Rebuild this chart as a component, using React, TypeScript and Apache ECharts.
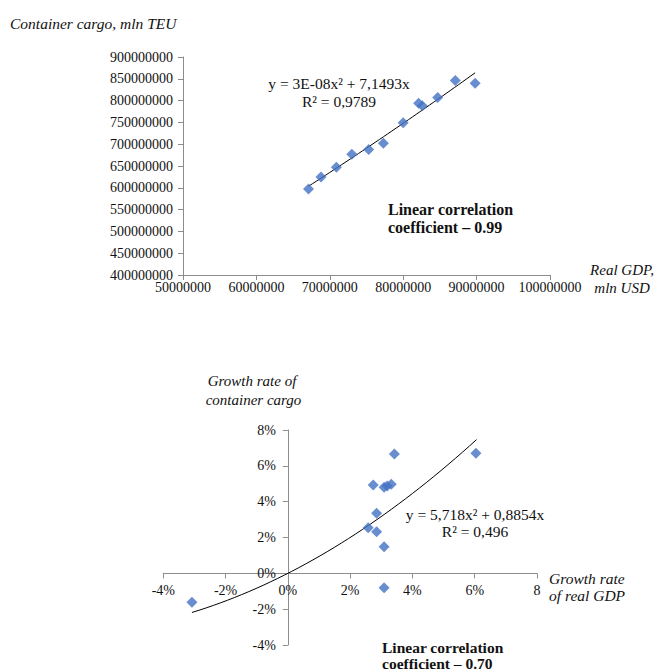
import React, { useEffect, useRef } from "react";
import * as echarts from "echarts";

// Top chart: real GDP (mln USD) vs container cargo (mln TEU)
const gdpValues = [67.1e6, 68.8e6, 70.9e6, 73.0e6, 75.3e6, 77.3e6, 80.0e6, 82.1e6, 82.6e6, 84.7e6, 87.1e6, 89.8e6];
const cargoValues = [597e6, 625e6, 647e6, 677e6, 688e6, 702e6, 749e6, 794e6, 788e6, 807e6, 846e6, 840e6];
const topTrendCoef = [2.75e-8, 7.1493]; // a, b for y = a x^2 + b x
const topTrendRange = [67.1e6, 89.8e6];
const topXTicks = [50000000, 100000000, 10000000]; // min, max, interval
const topYTicks = [400000000, 900000000, 50000000];

// Bottom chart: growth rate of real GDP (%) vs growth rate of container cargo (%)
const gdpGrowth = [-3.08, 2.58, 2.85, 2.74, 2.85, 3.09, 3.09, 3.19, 3.32, 3.42, 3.09, 6.04];
const cargoGrowth = [-1.62, 2.55, 2.32, 4.93, 3.35, 1.49, 4.8, 4.88, 4.97, 6.66, -0.8, 6.7];
const bottomTrendCoef = [5.718, 0.8854]; // y = a x^2 + b x (x as fraction)
const bottomTrendRange = [-3.08, 6.06];
const bottomTicks = [-4, 8, 2];

const FONT = "'Liberation Serif', 'Times New Roman', serif";
const AXIS_COLOR = "#8c8c8c";
const MARKER = "#4472C4";

function trendTop(): number[][] {
  const pts: number[][] = [];
  const n = 40;
  for (let i = 0; i <= n; i++) {
    const x = topTrendRange[0] + ((topTrendRange[1] - topTrendRange[0]) * i) / n;
    pts.push([x, topTrendCoef[0] * x * x + topTrendCoef[1] * x]);
  }
  return pts;
}

function trendBottom(): number[][] {
  const pts: number[][] = [];
  const n = 40;
  for (let i = 0; i <= n; i++) {
    const xp = bottomTrendRange[0] + ((bottomTrendRange[1] - bottomTrendRange[0]) * i) / n;
    const x = xp / 100;
    pts.push([xp, (bottomTrendCoef[0] * x * x + bottomTrendCoef[1] * x) * 100]);
  }
  return pts;
}

// bottom grid geometry
const G2 = { left: 163.3, top: 430, width: 373.7, height: 215 };
const zeroOffsetY = -(G2.height * (0 - bottomTicks[0])) / (bottomTicks[1] - bottomTicks[0]);
const zeroOffsetX = -(G2.width * (0 - bottomTicks[0])) / (bottomTicks[1] - bottomTicks[0]);

export default function App() {
  const ref = useRef<HTMLDivElement>(null);
  useEffect(() => {
    document.body.style.margin = "0";
    if (!ref.current) return;
    const chart = echarts.init(ref.current, undefined, { renderer: "svg" });
    const axisLine = { show: true, onZero: false, lineStyle: { color: AXIS_COLOR, width: 1 } };
    const axisCommon = {
      axisLine,
      axisTick: { show: true, length: 5, lineStyle: { color: AXIS_COLOR } },
      splitLine: { show: false },
    };
    const labelStyle = { fontFamily: FONT, fontSize: 14, color: "#111" };
    const textStyle = (extra: any) => ({ fontFamily: FONT, fontSize: 14, fill: "#111", ...extra });
    chart.setOption({
      animation: false,
      backgroundColor: "#fff",
      grid: [
        { left: 183, top: 57, width: 367, height: 218 },
        { left: G2.left, top: G2.top, width: G2.width, height: G2.height },
      ],
      xAxis: [
        {
          gridIndex: 0,
          type: "value",
          min: topXTicks[0],
          max: topXTicks[1],
          interval: topXTicks[2],
          ...axisCommon,
          axisLabel: { ...labelStyle, margin: 5, formatter: (v: number) => String(v) },
        },
        {
          gridIndex: 1,
          type: "value",
          min: bottomTicks[0],
          max: bottomTicks[1],
          interval: bottomTicks[2],
          position: "bottom",
          offset: zeroOffsetY,
          ...axisCommon,
          axisLabel: { ...labelStyle, margin: 10, formatter: (v: number) => (v === 8 ? "8" : v + "%") },
        },
      ],
      yAxis: [
        {
          gridIndex: 0,
          type: "value",
          min: topYTicks[0],
          max: topYTicks[1],
          interval: topYTicks[2],
          ...axisCommon,
          axisLabel: { ...labelStyle, margin: 10, formatter: (v: number) => String(v) },
        },
        {
          gridIndex: 1,
          type: "value",
          min: bottomTicks[0],
          max: bottomTicks[1],
          interval: bottomTicks[2],
          position: "left",
          offset: zeroOffsetX,
          ...axisCommon,
          axisLabel: { ...labelStyle, margin: 12, formatter: (v: number) => v + "%" },
        },
      ],
      series: [
        {
          type: "line",
          xAxisIndex: 0,
          yAxisIndex: 0,
          data: trendTop(),
          showSymbol: false,
          lineStyle: { color: "#000", width: 1 },
          silent: true,
          z: 1,
        },
        {
          type: "scatter",
          xAxisIndex: 0,
          yAxisIndex: 0,
          data: gdpValues.map((x, i) => [x, cargoValues[i]]),
          symbol: "diamond",
          symbolSize: [11, 11],
          itemStyle: { color: MARKER },
          z: 2,
        },
        {
          type: "line",
          xAxisIndex: 1,
          yAxisIndex: 1,
          data: trendBottom(),
          showSymbol: false,
          lineStyle: { color: "#000", width: 1 },
          silent: true,
          z: 1,
        },
        {
          type: "scatter",
          xAxisIndex: 1,
          yAxisIndex: 1,
          data: gdpGrowth.map((x, i) => [x, cargoGrowth[i]]),
          symbol: "diamond",
          symbolSize: [11, 11],
          itemStyle: { color: MARKER },
          z: 2,
        },
      ],
      graphic: [
        { type: "text", x: 10, y: 23, style: textStyle({ text: "Container cargo, mln TEU", fontStyle: "italic", fontSize: 15.5, verticalAlign: "middle" }) },
        { type: "text", x: 622, y: 270, style: textStyle({ text: "Real GDP,", fontStyle: "italic", fontSize: 15, align: "center", verticalAlign: "middle" }) },
        { type: "text", x: 622, y: 288, style: textStyle({ text: "mln USD", fontStyle: "italic", fontSize: 15, align: "center", verticalAlign: "middle" }) },
        { type: "text", x: 339, y: 83, style: textStyle({ text: "y = 3E-08x\u00B2 + 7,1493x", fontSize: 15.5, align: "center", verticalAlign: "middle" }) },
        { type: "text", x: 339, y: 101, style: textStyle({ text: "R\u00B2 = 0,9789", fontSize: 15.5, align: "center", verticalAlign: "middle" }) },
        { type: "text", x: 388, y: 209, style: textStyle({ text: "Linear correlation", fontSize: 16, fontWeight: "bold", verticalAlign: "middle" }) },
        { type: "text", x: 388, y: 227, style: textStyle({ text: "coefficient \u2013 0.99", fontSize: 16, fontWeight: "bold", verticalAlign: "middle" }) },
        { type: "text", x: 252, y: 381, style: textStyle({ text: "Growth rate of", fontStyle: "italic", fontSize: 15, align: "center", verticalAlign: "middle" }) },
        { type: "text", x: 253.5, y: 400, style: textStyle({ text: "container cargo", fontStyle: "italic", fontSize: 15, align: "center", verticalAlign: "middle" }) },
        { type: "text", x: 549, y: 578, style: textStyle({ text: "Growth rate", fontStyle: "italic", fontSize: 15.5, verticalAlign: "middle" }) },
        { type: "text", x: 549, y: 595, style: textStyle({ text: "of real GDP", fontStyle: "italic", fontSize: 15.5, verticalAlign: "middle" }) },
        { type: "text", x: 475, y: 514, style: textStyle({ text: "y = 5,718x\u00B2 + 0,8854x", fontSize: 15.5, align: "center", verticalAlign: "middle" }) },
        { type: "text", x: 475, y: 531, style: textStyle({ text: "R\u00B2 = 0,496", fontSize: 15.5, align: "center", verticalAlign: "middle" }) },
        { type: "text", x: 382, y: 647, style: textStyle({ text: "Linear correlation", fontSize: 15.5, fontWeight: "bold", verticalAlign: "middle" }) },
        { type: "text", x: 382, y: 663, style: textStyle({ text: "coefficient \u2013 0.70", fontSize: 15.5, fontWeight: "bold", verticalAlign: "middle" }) },
      ],
    });
    return () => chart.dispose();
  }, []);
  return <div ref={ref} style={{ width: 657, height: 671 }} />;
}
